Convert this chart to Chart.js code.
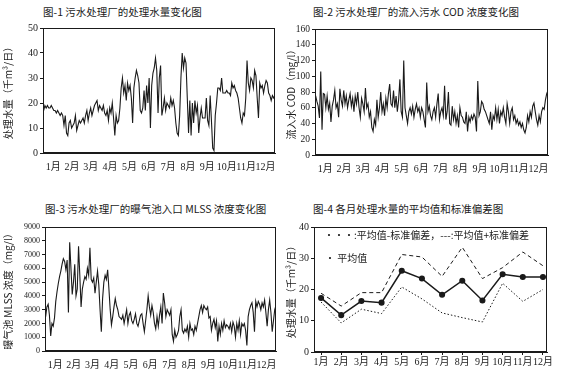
<!DOCTYPE html>
<html>
<head>
<meta charset="utf-8">
<script src="https://cdn.jsdelivr.net/npm/chart.js@4.4.1/dist/chart.umd.min.js"></script>
<style>
body{margin:0;background:#fff;width:566px;height:373px;position:relative;overflow:hidden;font-family:"Noto Sans CJK SC",sans-serif;color:#1a1a1a}
.t{position:absolute;font-size:10.5px;line-height:13px;white-space:nowrap}
.lg{position:absolute;font-size:10px;line-height:12px;white-space:nowrap}
canvas{position:absolute}
</style>
</head>
<body>
<div class="t" style="left:43px;top:5px">图-1 污水处理厂的处理水量变化图</div>
<div class="t" style="left:313px;top:5px">图-2 污水处理厂的流入污水 COD 浓度变化图</div>
<div class="t" style="left:45px;top:202px">图-3 污水处理厂的曝气池入口 MLSS 浓度变化图</div>
<div class="t" style="left:313px;top:202px">图-4 各月处理水量的平均值和标准偏差图</div>
<canvas id="c1" width="283" height="160" style="left:0;top:20px"></canvas>
<canvas id="c2" width="283" height="160" style="left:283px;top:20px"></canvas>
<canvas id="c3" width="283" height="156" style="left:0;top:217px"></canvas>
<canvas id="c4" width="283" height="156" style="left:283px;top:217px"></canvas>
<div class="lg" style="left:324px;top:229px">···:平均值-标准偏差，---:平均值+标准偏差</div>
<div class="lg" style="left:325px;top:252px">• 平均值</div>
<script>
// month labels and their mid-month day positions
const monthLabels = ['1月','2月','3月','4月','5月','6月','7月','8月','9月','10月','11月','12月'];
const monthMid = [16, 45.5, 75, 105.5, 136, 166.5, 197, 228, 258.5, 289, 319.5, 350];

// 处理水量 (千m3/日), read every 2 days
const flow = [
  17,19,18,19,18,18,19,18,17,17,16,17,16,15,16,15,
  11,15,8,7,12,13,10,11,12,15,9,11,13,12,
  13,14,12,15,17,13,16,18,15,17,19,20,21,17,19,
  18,17,19,16,15,17,13,18,16,20,14,7,15,12,13,
  18,26,30,24,27,21,28,25,27,22,12,26,30,33,31,28,
  17,16,18,25,17,27,20,30,10,27,32,34,38,33,16,
  30,35,15,18,22,17,20,19,18,22,19,21,18,12,8,
  7,15,30,40,34,38,36,22,8,21,7,20,12,21,16,19,
  8,14,18,14,14,14,22,13,11,23,13,2,1,15,20,
  26,26,25,30,24,24,24,25,24,24,23,28,26,27,25,
  24,22,18,14,12,16,15,22,37,28,25,30,29,26,33,
  31,22,14,28,26,27,24,27,29,28,24,23,21,23,22,23
];

// 流入水 COD (mg/l), every 2 days
const cod = [
  75,68,62,47,106,32,78,77,60,75,58,66,42,62,70,82,
  60,65,48,84,70,62,82,65,75,60,70,78,62,72,
  55,75,65,80,60,48,72,65,55,85,60,65,48,55,35,
  30,45,38,70,48,60,80,55,65,50,72,60,78,90,65,
  62,82,60,75,55,70,96,55,48,120,60,50,40,55,60,52,
  62,48,58,65,55,60,48,60,55,45,35,92,55,62,50,
  45,55,60,48,65,78,45,55,60,50,88,45,55,80,40,
  38,62,45,55,40,50,35,60,50,48,42,40,55,30,48,42,
  50,45,52,48,30,94,50,55,68,65,58,55,50,45,40,
  55,32,50,45,60,45,58,40,55,50,60,48,40,65,55,
  40,55,60,45,50,40,45,38,42,35,40,32,28,35,50,
  42,55,48,62,66,55,45,38,50,42,55,60,58,70,78,82
];

// 曝气池 MLSS 浓度 (mg/l), every 2 days
const mlss = [
  2500,3200,3400,2600,1100,2000,1800,2400,3600,4300,4900,5400,5800,6300,6700,6500,
  5900,6600,2800,7900,6000,4100,5000,6300,4000,4500,7600,5500,3200,4500,
  5000,5400,5200,6000,5500,7500,5200,5000,5300,4200,5000,5800,4800,3000,1400,
  3800,5000,5500,5200,5900,4500,3000,1900,2500,3200,3800,3300,3000,2500,2400,
  2300,2600,2000,2500,3000,2000,2600,2800,2200,2000,2300,2700,2000,1800,2200,2600,
  2700,2000,1400,2200,3000,4000,3200,2600,3300,2800,2000,1600,2500,1800,2600,
  3200,2000,4200,3500,2500,3000,2800,2600,3000,1200,700,1500,1000,1200,1500,
  2500,3000,1500,1300,1600,1400,1800,1000,2000,1500,1600,1200,1800,1500,2000,2500,
  3000,3300,2800,3300,3100,3000,3200,2400,2500,1500,2000,2300,1700,2200,700,
  1800,1200,2000,1500,2200,1700,1900,1800,1600,2000,1400,2100,1800,1000,2000,
  1500,2200,1200,2000,1800,2000,1500,400,2500,3000,3300,3500,2800,1400,3600,
  3200,3600,3400,3000,3500,3200,3700,2800,1800,3000,3700,2800,1400,2200,3000,3300
];

// 各月处理水量
const monthMean  = [17.3, 11.8, 16.3, 15.8, 26.0, 23.5, 18.3, 22.8, 16.5, 24.9, 24.0, 24.0];
const monthPlus  = [18.8, 14.7, 19.0, 19.0, 31.2, 30.4, 24.2, 33.5, 23.5, 27.0, 32.0, 27.6];
const monthMinus = [16.0,  9.3, 13.7, 12.3, 20.8, 17.0, 12.5, 11.0,  9.6, 22.0, 16.2, 20.0];

const ink = '#1a1a1a';
const numFont = {family: '"Liberation Serif", "Noto Sans CJK SC", serif', size: 10};

const frame = {
  id: 'frame',
  afterDraw(chart) {
    const a = chart.chartArea, c = chart.ctx;
    c.save();
    c.strokeStyle = ink;
    c.lineWidth = 1;
    c.strokeRect(a.left + 0.5, a.top + 0.5, a.right - a.left - 1, a.bottom - a.top - 1);
    c.restore();
  }
};

function yScale(max, step, title, w, fsize) {
  return {
    min: 0, max: max,
    ticks: {stepSize: step, color: ink, font: {family: numFont.family, size: fsize}, padding: 2,
            callback: v => String(v)},
    grid: {drawOnChartArea: false, tickLength: 3, color: ink},
    border: {color: ink},
    title: {display: true, text: title, color: ink, font: {family: '"Noto Sans CJK SC", sans-serif', size: 10}, padding: {top: 2, bottom: 0}},
    afterFit(s) { s.width = w; }
  };
}

function seriesChart(id, values, yMax, yStep, yTitle, lay) {
  const pts = values.map((v, i) => ({x: 1 + 2 * i, y: v}));
  return new Chart(document.getElementById(id), {
    type: 'line',
    data: {datasets: [{data: pts, borderColor: ink, borderWidth: 1.1, pointRadius: 0, tension: 0}]},
    options: {
      responsive: false, animation: false,
      layout: {padding: {top: lay.top, right: lay.right, left: 0, bottom: 0}},
      plugins: {legend: {display: false}, tooltip: {enabled: false}},
      scales: {
        x: {
          type: 'linear', min: 0, max: 365,
          afterBuildTicks(s) { s.ticks = monthMid.map(v => ({value: v})); },
          ticks: {autoSkip: false, maxRotation: 0, color: ink, font: numFont, padding: 0,
                  callback: (v, i) => monthLabels[i]},
          grid: {display: false},
          border: {color: ink},
          afterFit(s) { s.height = lay.xh; }
        },
        y: yScale(yMax, yStep, yTitle, lay.yw, lay.fs)
      }
    },
    plugins: [frame]
  });
}

seriesChart('c1', flow, 50, 10, '处理水量（千m³/日）', {top: 7, right: 8, xh: 27, yw: 43, fs: 10});
seriesChart('c2', cod, 160, 20, '流入水 COD（mg/l）', {top: 9, right: 18, xh: 25, yw: 32, fs: 9.5});
seriesChart('c3', mlss, 9000, 1000, '曝气池 MLSS 浓度（mg/l）', {top: 10, right: 7, xh: 22, yw: 45, fs: 8});

new Chart(document.getElementById('c4'), {
  type: 'line',
  data: {
    datasets: [
      {data: monthMean.map((v, i) => ({x: i + 1, y: v})), borderColor: ink, borderWidth: 1.5,
       pointRadius: 2.3, pointBackgroundColor: ink, pointBorderColor: ink},
      {data: monthPlus.map((v, i) => ({x: i + 1, y: v})), borderColor: ink, borderWidth: 1,
       borderDash: [4, 3], pointRadius: 0},
      {data: monthMinus.map((v, i) => ({x: i + 1, y: v})), borderColor: ink, borderWidth: 1,
       borderDash: [1.5, 2], pointRadius: 0}
    ]
  },
  options: {
    responsive: false, animation: false,
    layout: {padding: {top: 10, right: 19, left: 0, bottom: 0}},
    plugins: {legend: {display: false}, tooltip: {enabled: false}},
    scales: {
      x: {
        type: 'linear', min: 0.65, max: 12.2,
        afterBuildTicks(s) { s.ticks = monthLabels.map((m, i) => ({value: i + 1})); },
        ticks: {autoSkip: false, maxRotation: 0, color: ink, font: numFont, padding: 1,
                callback: (v, i) => monthLabels[i]},
        grid: {drawOnChartArea: false, tickLength: 3, color: ink},
        border: {color: ink},
        afterFit(s) { s.height = 21; }
      },
      y: yScale(40, 10, '处理水量（千m³/日）', 31, 10)
    }
  },
  plugins: [frame]
});
</script>
</body>
</html>
